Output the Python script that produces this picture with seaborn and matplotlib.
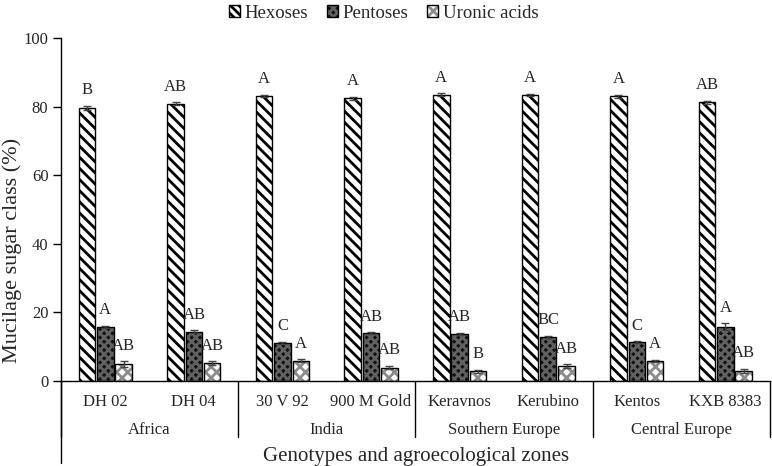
import numpy as np
import pandas as pd
import matplotlib
matplotlib.use("Agg")
import matplotlib.pyplot as plt
from matplotlib.patches import Patch
import seaborn as sns

# data
genotypes = ["DH 02", "DH 04", "30 V 92", "900 M Gold", "Keravnos", "Kerubino", "Kentos", "KXB 8383"]
zones = ["Africa", "India", "Southern Europe", "Central Europe"]
classes = ["Hexoses", "Pentoses", "Uronic acids"]

hexoses = [79.6, 80.8, 83.2, 82.4, 83.5, 83.4, 83.0, 81.2]
pentoses = [15.8, 14.4, 11.2, 13.9, 13.7, 12.8, 11.3, 15.8]
uronic = [4.9, 5.3, 5.9, 3.9, 2.8, 4.3, 5.9, 3.0]

hex_err = [0.6, 0.4, 0.3, 0.4, 0.4, 0.4, 0.5, 0.5]
pen_err = [0.3, 0.4, 0.3, 0.3, 0.3, 0.4, 0.3, 1.0]
uro_err = [0.9, 0.5, 0.4, 0.5, 0.5, 0.6, 0.3, 0.6]

hex_letters = ["B", "AB", "A", "A", "A", "A", "A", "AB"]
pen_letters = ["A", "AB", "C", "AB", "AB", "BC", "C", "A"]
uro_letters = ["AB", "AB", "A", "AB", "B", "AB", "A", "AB"]

values = [hexoses, pentoses, uronic]
errors = [hex_err, pen_err, uro_err]
letters = [hex_letters, pen_letters, uro_letters]

df = pd.DataFrame({
    "genotype": genotypes * 3,
    "class": np.repeat(classes, len(genotypes)),
    "value": hexoses + pentoses + uronic,
})

sns.set_style("white")
plt.rcParams["font.family"] = ["Liberation Serif", "DejaVu Serif"]
plt.rcParams["hatch.linewidth"] = 2.0

# styles per class: facecolor, hatch, hatch colour
styles = {
    "Hexoses": ("white", "\\\\\\", (0, 0, 0, 1)),
    "Pentoses": ("#111111", "xxxx", (0.38, 0.38, 0.38, 1)),
    "Uronic acids": ("white", "xxx", (0.55, 0.55, 0.55, 1)),
}

fig = plt.figure(figsize=(7.72, 4.66), dpi=100)
ax = fig.add_axes([0.079, 0.1824, 0.918, 0.7361])

sns.barplot(data=df, x="genotype", y="value", hue="class", order=genotypes,
            hue_order=classes, width=0.62, gap=0.1, edgecolor="black",
            linewidth=1, errorbar=None, legend=False, ax=ax)

bar_conts = list(ax.containers)
for ci, cont in enumerate(bar_conts):
    fc, hatch, hc = styles[classes[ci]]
    for j, bar in enumerate(cont):
        bar.set_facecolor(fc)
        bar.set_hatch(hatch)
        bar.set_edgecolor("black")
        bar._hatch_color = hc
        xc = bar.get_x() + bar.get_width() / 2
        top = values[ci][j]
        ax.errorbar(xc, top, yerr=errors[ci][j], color="#444444", capsize=3,
                    elinewidth=1, capthick=1)
        ax.text(xc, top + errors[ci][j] + 2.2, letters[ci][j], ha="center",
                va="bottom", fontsize=12)

ax.set_ylim(0, 100)
ax.set_xlim(-0.5, len(genotypes) - 0.5)
ax.set_yticks(range(0, 101, 20))
ax.tick_params(axis="y", direction="out", length=6, width=1, labelsize=12,
               left=True, color="black", pad=3)
ax.tick_params(axis="x", length=0, labelsize=12, pad=9)
ax.set_xlabel("")
ax.set_ylabel("Mucilage sugar class (%)", fontsize=16)
ax.yaxis.set_label_coords(-0.055, 0.38)
for s in ["top", "right"]:
    ax.spines[s].set_visible(False)
for s in ["left", "bottom"]:
    ax.spines[s].set_color("black")
    ax.spines[s].set_linewidth(1)

# multi-level category axis
depth = -0.163
for k in range(len(zones) + 1):
    xs = k * 2 - 0.5
    ax.plot([xs, xs], [0, depth], transform=ax.get_xaxis_transform(),
            color="black", lw=1, clip_on=False)
for k, z in enumerate(zones):
    ax.text(k * 2 + 0.5, -0.142, z, transform=ax.get_xaxis_transform(),
            ha="center", va="center", fontsize=12)
ax.plot([-0.5, -0.5], [0, -0.24], transform=ax.get_xaxis_transform(),
        color="black", lw=1, clip_on=False)
fig.text(0.539, 0.02, "Genotypes and agroecological zones", ha="center",
         va="center", fontsize=15)

handles = []
for c in classes:
    fc, hatch, hc = styles[c]
    handles.append(Patch(facecolor=fc, edgecolor="black", hatch=hatch, label=c))
leg = fig.legend(handles=handles, loc="center", bbox_to_anchor=(0.497, 0.972),
                 ncol=3, frameon=False, fontsize=13.5, handlelength=0.6,
                 handleheight=0.6, handletextpad=0.25, columnspacing=1.0,
                 borderpad=0)
for h, c in zip(leg.legend_handles, classes):
    h._hatch_color = styles[c][2]
    h.set_hatch("\\\\\\\\" if c == "Hexoses" else styles[c][1])

fig.savefig("out.png", dpi=100)
